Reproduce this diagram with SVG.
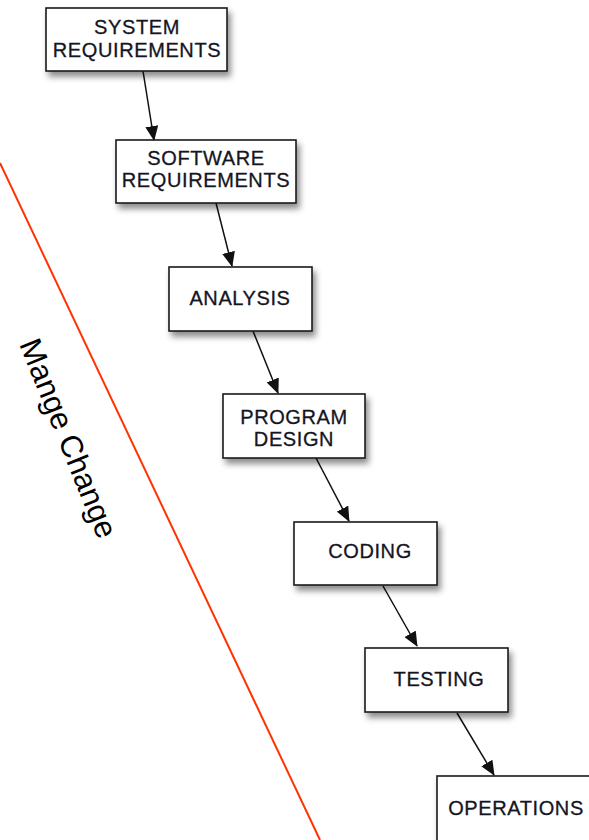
<svg xmlns="http://www.w3.org/2000/svg" width="589" height="840" viewBox="0 0 589 840">
<defs>
<filter id="sh" x="-20%" y="-20%" width="150%" height="160%">
<feDropShadow dx="3" dy="5" stdDeviation="3" flood-color="#000" flood-opacity="0.45"/>
</filter>
<marker id="ah" markerWidth="15" markerHeight="13" refX="14" refY="6.5" orient="auto" markerUnits="userSpaceOnUse">
<path d="M0,0 L15,6.5 L0,13 Z" fill="#111"/>
</marker>
<style>
.box{fill:#fff;stroke:#1a1a1a;stroke-width:1.6;filter:url(#sh)}
.lbl{font-family:"Liberation Sans",Arial,sans-serif;font-size:20px;letter-spacing:0.6px;fill:#15151f;stroke:#15151f;stroke-width:0.3;text-anchor:middle}
.con{stroke:#111;stroke-width:1.5;fill:none;marker-end:url(#ah)}
</style>
</defs>
<rect width="589" height="840" fill="#fff"/>
<line x1="0" y1="163" x2="320" y2="840" stroke="#ff3300" stroke-width="2"/>
<text x="0" y="0" transform="translate(19,344) rotate(68)" font-family="'Liberation Sans',Arial,sans-serif" font-size="31" fill="#000">Mange Change</text>
<g id="connectors">
<line class="con" x1="143" y1="71" x2="154" y2="140"/>
<line class="con" x1="216" y1="203" x2="232" y2="266"/>
<line class="con" x1="253" y1="331" x2="278" y2="393"/>
<line class="con" x1="316" y1="458" x2="349" y2="521"/>
<line class="con" x1="383" y1="586" x2="417" y2="646"/>
<line class="con" x1="457" y1="713" x2="494" y2="775"/>
</g>
<g id="n1"><rect class="box" x="46" y="8" width="181" height="63"/><text class="lbl" x="137" y="34">SYSTEM</text><text class="lbl" x="137" y="57">REQUIREMENTS</text></g>
<g id="n2"><rect class="box" x="116" y="140" width="180" height="63"/><text class="lbl" x="206" y="165">SOFTWARE</text><text class="lbl" x="206" y="187">REQUIREMENTS</text></g>
<g id="n3"><rect class="box" x="169" y="267" width="143" height="64"/><text class="lbl" x="240" y="305">ANALYSIS</text></g>
<g id="n4"><rect class="box" x="223" y="394" width="142" height="64"/><text class="lbl" x="294" y="424">PROGRAM</text><text class="lbl" x="294" y="446">DESIGN</text></g>
<g id="n5"><rect class="box" x="294" y="522" width="143" height="63"/><text class="lbl" x="370" y="558">CODING</text></g>
<g id="n6"><rect class="box" x="365" y="648" width="143" height="64"/><text class="lbl" x="439" y="686">TESTING</text></g>
<g id="n7"><rect class="box" x="437" y="776" width="160" height="70"/><text class="lbl" x="516" y="815">OPERATIONS</text></g>
</svg>
